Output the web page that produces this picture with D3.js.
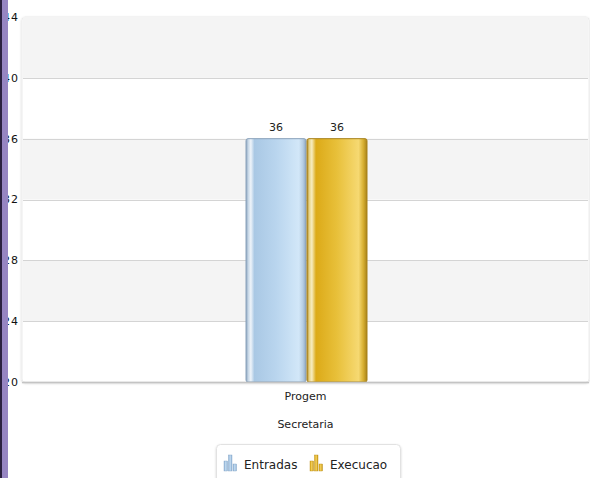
<!DOCTYPE html>
<html><head><meta charset="utf-8">
<script src="https://cdn.jsdelivr.net/npm/d3@7"></script>
<style>html,body{margin:0;padding:0;background:#fff;}svg{display:block;font-family:"DejaVu Sans","Liberation Sans",sans-serif;}</style>
</head><body>
<script>
const categories = ["Progem"];
const seriesNames = ["Entradas", "Execucao"];
const entradas = [36];
const execucao = [36];
const yTicks = [20, 24, 28, 32, 36, 40, 44];
const xTitle = "Secretaria";

const W = 590, H = 478;
const svg = d3.select("body").append("svg").attr("width", W).attr("height", H);
const defs = svg.append("defs");

function grad(id, stops) {
  const g = defs.append("linearGradient").attr("id", id).attr("x1", "0").attr("x2", "1").attr("y1", "0").attr("y2", "0");
  stops.forEach(s => g.append("stop").attr("offset", s[0]).attr("stop-color", s[1]));
}
grad("gBlue", [[0, "#8ea6bf"], [0.04, "#c9d9e8"], [0.08, "#eef4fa"], [0.14, "#a9c8e4"], [0.5, "#b9d5ee"], [0.88, "#d2e7f8"], [0.95, "#b6cde3"], [1, "#8ea6bf"]]);
grad("gGold", [[0, "#b08a20"], [0.04, "#e8d48a"], [0.08, "#f7ecc0"], [0.15, "#dcaa18"], [0.5, "#e8c03a"], [0.86, "#f6d972"], [0.94, "#d6ae30"], [1, "#a8821a"]]);
grad("gBlueIcon", [[0, "#8fb3d8"], [0.5, "#c4dcf0"], [1, "#8fb3d8"]]);
grad("gGoldIcon", [[0, "#d9a514"], [0.5, "#f4d260"], [1, "#c8940e"]]);
const sh = defs.append("filter").attr("id", "shadow").attr("x", "-10%").attr("y", "-10%").attr("width", "120%").attr("height", "130%");
sh.append("feDropShadow").attr("dx", 0).attr("dy", 1).attr("stdDeviation", 1.2).attr("flood-color", "#000").attr("flood-opacity", 0.18);

const pL = 22, pR = 589, pT = 17, pB = 382;
const y = d3.scaleLinear().domain([20, 44]).range([pB, pT]);
const x0 = d3.scaleBand().domain(categories).range([pL, pR]);
const x1 = d3.scaleBand().domain(seriesNames).range([0, 122]);

// plot background
svg.append("rect").attr("x", pL).attr("y", pT).attr("width", pR - pL).attr("height", pB - pT)
  .attr("rx", 3).attr("fill", "#fff").attr("stroke", "#ececec").attr("filter", "url(#shadow)");

// bands
const bandPairs = [];
for (let i = 0; i < yTicks.length - 1; i++) bandPairs.push([yTicks[i], yTicks[i + 1], i]);
svg.append("g").selectAll("rect").data(bandPairs.filter(d => d[2] % 2 === 1)).join("rect")
  .attr("x", pL + 1).attr("width", pR - pL - 2)
  .attr("y", d => y(d[1])).attr("height", d => y(d[0]) - y(d[1]))
  .attr("fill", "#f4f4f4");

// gridlines
svg.append("g").selectAll("line").data(yTicks.filter(t => t > 20 && t < 44)).join("line")
  .attr("x1", pL + 1).attr("x2", pR - 1)
  .attr("y1", d => Math.round(y(d)) + 0.5).attr("y2", d => Math.round(y(d)) + 0.5)
  .attr("stroke", "#d4d4d4").attr("stroke-width", 1.2);

// y tick labels
svg.append("g").selectAll("text").data(yTicks).join("text")
  .attr("x", 19).attr("y", d => y(d)).attr("dy", "0.35em").attr("text-anchor", "end")
  .attr("font-size", 11).attr("letter-spacing", 1).attr("fill", "#111").text(d => d);

// bars
const data = categories.map((c, i) => ({ cat: c, vals: [{ s: "Entradas", v: entradas[i], f: "url(#gBlue)", st: "#8aa2bb" }, { s: "Execucao", v: execucao[i], f: "url(#gGold)", st: "#a8821a" }] }));
const cg = svg.append("g").selectAll("g").data(data).join("g")
  .attr("transform", d => `translate(${x0(d.cat) + x0.bandwidth() / 2 - 61},0)`);
cg.selectAll("rect").data(d => d.vals).join("rect")
  .attr("x", d => x1(d.s) + 1.5).attr("width", x1.bandwidth() - 1)
  .attr("y", d => y(d.v)).attr("height", d => y(20) - y(d.v))
  .attr("rx", 2).attr("fill", d => d.f).attr("stroke", d => d.st).attr("stroke-width", 1);
cg.selectAll("text").data(d => d.vals).join("text")
  .attr("x", d => x1(d.s) + x1.bandwidth() / 2 + 1).attr("y", d => y(d.v) - 8)
  .attr("text-anchor", "middle").attr("font-size", 11).attr("fill", "#222").text(d => d.v);

// baseline
svg.append("line").attr("x1", pL).attr("x2", pR).attr("y1", pB + 0.5).attr("y2", pB + 0.5)
  .attr("stroke", "#c4c4c4").attr("stroke-width", 1.5);

// x axis labels
svg.append("g").selectAll("text").data(categories).join("text")
  .attr("x", d => x0(d) + x0.bandwidth() / 2).attr("y", 400)
  .attr("text-anchor", "middle").attr("font-size", 11).attr("fill", "#222").text(d => d);
svg.append("text").attr("x", (pL + pR) / 2).attr("y", 428).attr("text-anchor", "middle")
  .attr("font-size", 11).attr("fill", "#222").text(xTitle);

// legend
const lg = svg.append("g");
lg.append("rect").attr("x", 216.5).attr("y", 444.5).attr("width", 184).attr("height", 40).attr("rx", 4)
  .attr("fill", "#fff").attr("stroke", "#e2e2e2").attr("filter", "url(#shadow)");
const legendItems = [{ name: seriesNames[0], x: 224, c: "url(#gBlueIcon)", s: "#7d9fc2" }, { name: seriesNames[1], x: 310, c: "url(#gGoldIcon)", s: "#b88a12" }];
legendItems.forEach(it => {
  const hs = [10, 16, 7];
  hs.forEach((h, j) => {
    lg.append("rect").attr("x", it.x + j * 4.5).attr("y", 471 - h).attr("width", 3.5).attr("height", h)
      .attr("fill", it.c).attr("stroke", it.s).attr("stroke-width", 0.4);
  });
  lg.append("text").attr("x", it.x + 20).attr("y", 469).attr("font-size", 12).attr("fill", "#222").text(it.name);
});

// left purple edge
svg.append("rect").attr("x", 0).attr("y", 0).attr("width", 8).attr("height", H).attr("fill", "#9685c2");
svg.append("rect").attr("x", 0).attr("y", 0).attr("width", 2).attr("height", H).attr("fill", "#2b2140");
</script>
</body></html>
